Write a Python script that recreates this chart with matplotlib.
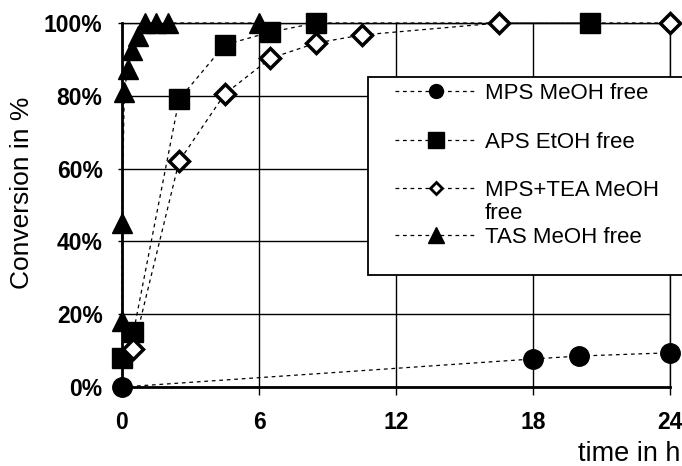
import matplotlib
matplotlib.use("Agg")
from matplotlib import pyplot as plt
from matplotlib.lines import Line2D
from matplotlib.patches import Rectangle
from matplotlib.ticker import FuncFormatter

plt.rcParams["font.family"] = ["Liberation Sans", "DejaVu Sans"]

W, H = 682, 466

# conversion (%) vs time (h)
mps_t = [0, 18, 20, 24]
mps_c = [0, 7.7, 8.5, 9.4]

aps_t = [0, 0.5, 2.5, 4.5, 6.5, 8.5, 20.5]
aps_c = [8, 15, 79, 94, 97.5, 100, 100]

tea_t = [0.5, 2.5, 4.5, 6.5, 8.5, 10.5, 16.5, 24]
tea_c = [10.5, 62, 80.5, 90.3, 94.5, 96.7, 100, 100]

tas_t = [0, 0, 0.1, 0.25, 0.45, 0.7, 1, 1.5, 2, 6]
tas_c = [18, 45, 81, 87.5, 92.5, 96.5, 100, 100, 100, 100]

labels = ["MPS MeOH free", "APS EtOH free", "MPS+TEA MeOH\nfree", "TAS MeOH free"]


def px(x, y):
    # pixel position (from top-left) -> figure fraction
    return x / W, 1 - y / H


fig = plt.figure(figsize=(W / 100, H / 100), dpi=100)
ax = fig.add_axes([122 / W, 1 - 387 / H, 548 / W, 364 / H])

dash = (0, (3, 3))
common = dict(color="black", lw=0.9, linestyle=dash, clip_on=False, zorder=3)

styles = [
    dict(marker="o", ms=14, mfc="black", mec="black"),
    dict(marker="s", ms=14, mfc="black", mec="black"),
    dict(marker="D", ms=10, mfc="white", mec="black", mew=2.5),
    dict(marker="^", ms=15, mfc="black", mec="black"),
]

ax.plot(mps_t, mps_c, **styles[0], **common)
ax.plot(aps_t, aps_c, **styles[1], **common)
ax.plot(tea_t, tea_c, **styles[2], **common)
ax.plot(tas_t, tas_c, **styles[3], **common)

ax.set_xlim(0, 24)
ax.set_ylim(0, 100)
ax.set_xticks([0, 6, 12, 18, 24])
ax.set_yticks([0, 20, 40, 60, 80, 100])
ax.yaxis.set_major_formatter(FuncFormatter(lambda v, p: f"{v:.0f}%"))
ax.grid(True, color="black", lw=1.0, zorder=0)
ax.set_axisbelow(True)
ax.tick_params(axis="y", labelsize=16.5, length=3, width=1, pad=11)
ax.tick_params(axis="x", labelsize=16.5, length=6, width=1, pad=11)
for t in ax.get_xticklabels() + ax.get_yticklabels():
    t.set_fontweight("bold")
for s in ["left", "bottom"]:
    ax.spines[s].set_linewidth(2)
for s in ["top", "right"]:
    ax.spines[s].set_linewidth(1)

fig.text(*px(22, 193), "Conversion in %", fontsize=19, rotation=90,
         ha="center", va="center")
fig.text(*px(680, 461), "time in h", fontsize=19.5, ha="right", va="baseline")

# legend box, drawn by hand so the two-line entry keeps the row pitch
fig.patches.append(Rectangle(px(368, 275), 330 / W, 198 / H, transform=fig.transFigure,
                             fill=True, facecolor="white", edgecolor="black",
                             lw=1.3, zorder=5))
rows = [91, 140, 188, 235]
leg_ms = [10, 11, 6.5, 12]
for i, y in enumerate(rows):
    st = dict(styles[i])
    st["ms"] = leg_ms[i]
    if "mew" in st:
        st["mew"] = 2
    x0, yy = px(395, y)
    x1, _ = px(477, y)
    xm, _ = px(436, y)
    fig.lines.append(Line2D([x0, x1], [yy, yy], transform=fig.transFigure,
                            color="black", lw=0.9, linestyle=dash, zorder=6))
    fig.lines.append(Line2D([xm], [yy], transform=fig.transFigure,
                            linestyle="none", zorder=7, **st))
    fig.text(*px(485, y - 8), labels[i], fontsize=16, ha="left", va="top",
             linespacing=1.1, zorder=8)

fig.savefig("out.png", dpi=100)
